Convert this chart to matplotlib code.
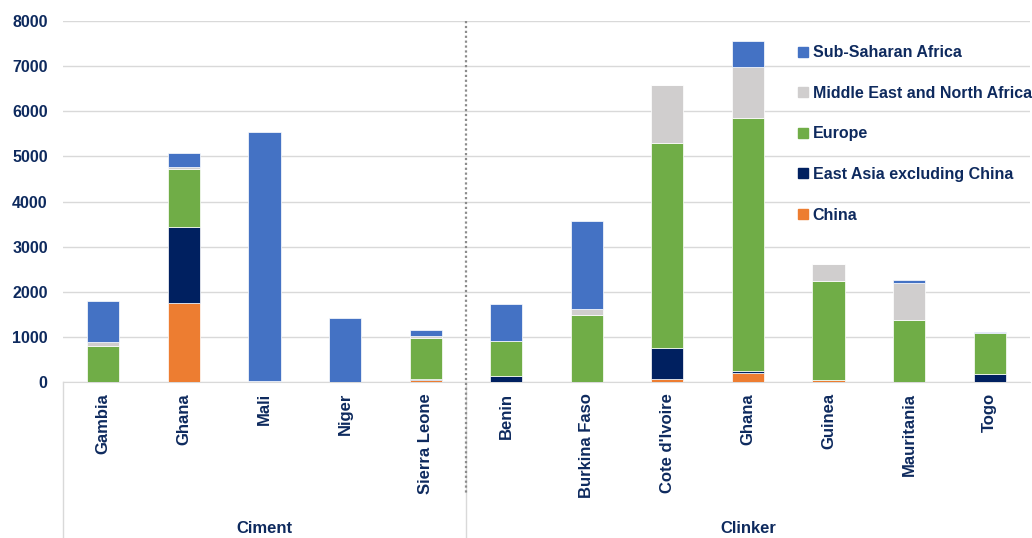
import numpy as np
import matplotlib.pyplot as plt
from matplotlib.lines import Line2D

# ---------- Data (thousand tonnes) ----------
countries = ["Gambia", "Ghana", "Mali", "Niger", "Sierra Leone",
             "Benin", "Burkina Faso", "Cote d'Ivoire", "Ghana", "Guinea",
             "Mauritania", "Togo"]
groups = ["Ciment", "Clinker"]
group_sizes = [5, 7]

china = [0, 1750, 0, 0, 40, 0, 0, 60, 190, 40, 0, 0]
east_asia = [0, 1690, 0, 0, 20, 125, 0, 695, 50, 0, 0, 185]
europe = [790, 1290, 0, 0, 920, 775, 1480, 4548, 5600, 2200, 1385, 890]
mena = [90, 30, 20, 0, 50, 0, 130, 1280, 1140, 385, 810, 0]
ssa = [920, 310, 5530, 1425, 115, 820, 1960, 0, 580, 0, 55, 30]

series = [
    ("China", china, "#ED7D31"),
    ("East Asia excluding China", east_asia, "#002060"),
    ("Europe", europe, "#70AD47"),
    ("Middle East and North Africa", mena, "#D0CECE"),
    ("Sub-Saharan Africa", ssa, "#4472C4"),
]

navy = "#0E2A5E"
grid_col = "#D9D9D9"
plt.rcParams['font.family'] = ['Liberation Sans', 'DejaVu Sans']

fig = plt.figure(figsize=(10.32, 5.38), dpi=100)
ax = fig.add_axes([63 / 1032, 1 - 382 / 538, 967 / 1032, 361 / 538])

x = np.arange(len(countries))
bottom = np.zeros(len(countries))
handles = []
for name, vals, col in series:
    vals = np.array(vals, dtype=float)
    ax.bar(x, vals, width=0.4, bottom=bottom, color=col,
           edgecolor="white", linewidth=0.5, zorder=3)
    bottom += vals
    handles.append(Line2D([], [], marker="s", color=col, linestyle="none",
                          markersize=7, label=name))

ax.set_xlim(-0.5, len(countries) - 0.5)
ax.set_ylim(0, 8000)
ax.set_yticks(np.arange(0, 8001, 1000))
ax.yaxis.grid(True, color=grid_col, linewidth=1, zorder=0)
ax.set_axisbelow(True)
for s in ["top", "right", "left"]:
    ax.spines[s].set_visible(False)
ax.spines["bottom"].set_color(grid_col)
ax.tick_params(axis="y", length=0, pad=11, labelsize=11.5, labelcolor=navy)
for lbl in ax.get_yticklabels():
    lbl.set_fontweight("bold")

ax.set_xticks(x)
ax.set_xticklabels(countries, rotation=90, fontsize=12, fontweight="bold",
                   color=navy, va="top", ha="center")
ax.tick_params(axis="x", length=0, pad=8)

# dotted divider between the two product groups
split = group_sizes[0] - 0.5
ax.plot([split, split], [8000, -2470], color="#8C8C8C", linestyle=(0, (1, 1.2)),
        linewidth=1.6, clip_on=False, zorder=4)

# multi-level category axis frame and group names
trans = ax.get_xaxis_transform()
for xv in [-0.5, split]:
    ax.plot([xv, xv], [0, -0.43], color=grid_col, linewidth=1,
            transform=trans, clip_on=False)
start = -0.5
for g, n in zip(groups, group_sizes):
    ax.text(start + n / 2, -0.405, g, transform=trans, ha="center", va="center",
            fontsize=12, fontweight="bold", color=navy)
    start += n

leg = ax.legend(handles=handles[::-1], loc="upper left",
                bbox_to_anchor=(784 / 1032, 1 - 31 / 538),
                bbox_transform=fig.transFigure, frameon=False,
                prop={"size": 11.5, "weight": "bold"}, labelcolor=navy,
                handlelength=0.6, handletextpad=0.3, labelspacing=1.6)

fig.savefig("out.png", dpi=100)
